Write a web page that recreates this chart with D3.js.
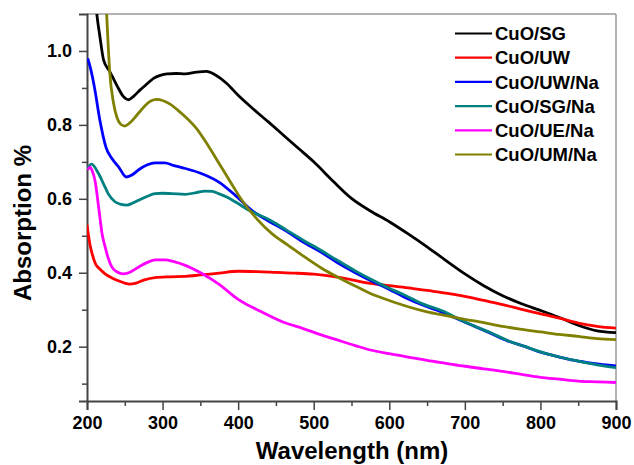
<!doctype html>
<html>
<head>
<meta charset="utf-8">
<title>Absorption spectra</title>
<script src="https://d3js.org/d3.v7.min.js"></script>
<style>
  body { margin: 0; background: #fff; }
  svg text { font-family: "Liberation Sans", Arial, sans-serif; font-weight: bold; fill: #000; }
</style>
</head>
<body>
<svg id="chart" width="634" height="465"></svg>
<script>
// series names and colours (legend order)
var names  = ["CuO/SG", "CuO/UW", "CuO/UW/Na", "CuO/SG/Na", "CuO/UE/Na", "CuO/UM/Na"];
var colors = ["#000000", "#ff0000", "#0000ff", "#008080", "#ff00ff", "#808000"];

// wavelength (nm) / absorption values
var sgWl  = [205,210,213,217,222,230,240,248,255,262,270,280,288,297,306,318,330,345,358,370,385,400,420,440,460,480,500,525,550,575,600,625,650,675,700,725,750,775,800,825,850,875,900];
var sgAbs = [1.30,1.17,1.10,1.04,0.975,0.945,0.905,0.877,0.868,0.878,0.894,0.912,0.926,0.934,0.938,0.939,0.938,0.943,0.945,0.935,0.912,0.88,0.843,0.808,0.772,0.736,0.70,0.649,0.601,0.567,0.538,0.505,0.47,0.433,0.397,0.365,0.338,0.316,0.298,0.279,0.258,0.243,0.238];

var uwWl  = [200,202,204,207,211,217,224,233,242,250,256,265,275,290,310,330,350,375,400,425,450,475,500,525,550,575,600,625,650,675,700,725,750,775,800,825,850,875,900];
var uwAbs = [0.53,0.50,0.475,0.45,0.425,0.41,0.397,0.386,0.378,0.372,0.369,0.372,0.38,0.387,0.389,0.39,0.394,0.399,0.404,0.403,0.401,0.399,0.396,0.39,0.381,0.371,0.365,0.359,0.352,0.345,0.336,0.325,0.314,0.301,0.289,0.277,0.264,0.255,0.25];

var uwNaWl  = [201,205,210,217,225,233,242,252,260,268,280,290,303,315,330,352,374,396,418,440,462,486,510,530,555,575,600,620,645,665,685,705,730,755,780,800,825,845,870,900];
var uwNaAbs = [0.98,0.95,0.9,0.813,0.74,0.709,0.686,0.659,0.665,0.678,0.692,0.697,0.697,0.69,0.682,0.668,0.646,0.61,0.569,0.54,0.515,0.483,0.455,0.429,0.40,0.379,0.355,0.334,0.312,0.297,0.28,0.262,0.24,0.217,0.2,0.185,0.172,0.163,0.155,0.148];

var sgNaWl  = [201,206,215,222,228,237,245,253,260,268,280,290,300,312,330,345,356,366,374,385,396,418,440,462,486,510,530,555,575,600,620,645,670,690,710,735,755,780,800,825,850,875,900];
var sgNaAbs = [0.682,0.694,0.669,0.64,0.614,0.592,0.585,0.583,0.588,0.596,0.607,0.614,0.615,0.614,0.612,0.617,0.621,0.62,0.614,0.605,0.592,0.565,0.545,0.518,0.488,0.46,0.435,0.405,0.383,0.358,0.34,0.315,0.297,0.277,0.258,0.237,0.218,0.2,0.186,0.172,0.161,0.151,0.143];

var ueNaWl  = [201,204,207,211,214,217,220,224,228,233,240,248,255,268,280,290,303,315,330,352,374,400,430,460,486,510,530,555,575,600,625,650,675,700,725,750,775,800,825,850,875,900];
var ueNaAbs = [0.678,0.686,0.675,0.645,0.60,0.551,0.505,0.47,0.44,0.415,0.402,0.397,0.40,0.415,0.428,0.435,0.435,0.43,0.42,0.398,0.37,0.328,0.295,0.266,0.249,0.232,0.219,0.203,0.191,0.181,0.172,0.163,0.155,0.147,0.14,0.133,0.125,0.117,0.112,0.107,0.105,0.103];

var umNaWl  = [218,222,226,230,235,240,245,250,258,265,275,285,292,300,310,320,330,345,360,375,390,405,425,445,465,490,510,530,555,575,600,625,650,675,700,725,750,775,800,825,850,875,900];
var umNaAbs = [1.45,1.27,1.10,0.945,0.86,0.818,0.801,0.797,0.808,0.824,0.848,0.865,0.869,0.866,0.856,0.84,0.822,0.79,0.745,0.695,0.645,0.596,0.545,0.505,0.476,0.44,0.413,0.39,0.364,0.344,0.325,0.308,0.294,0.284,0.274,0.265,0.255,0.247,0.24,0.233,0.228,0.222,0.219];

var xTicks = [200,300,400,500,600,700,800,900];
var yTicks = [0.2,0.4,0.6,0.8,1.0];

var allWl  = [sgWl, uwWl, uwNaWl, sgNaWl, ueNaWl, umNaWl];
var allAbs = [sgAbs, uwAbs, uwNaAbs, sgNaAbs, ueNaAbs, umNaAbs];

var series = names.map(function(n, i) {
  return { name: n, color: colors[i],
           values: allWl[i].map(function(w, j) { return { wl: w, a: allAbs[i][j] }; }) };
});

var svg = d3.select("#chart");
var margin = {top: 14, right: 18, bottom: 64, left: 87},
    width = 634 - margin.left - margin.right,
    height = 465 - margin.top - margin.bottom;

var x = d3.scaleLinear().domain([200, 900]).range([0, width]);
var y = d3.scaleLinear().domain([0.053, 1.1]).range([height, 0]);

var g = svg.append("g").attr("transform", "translate(" + margin.left + "," + margin.top + ")");

g.append("defs").append("clipPath").attr("id", "clip")
  .append("rect").attr("width", width).attr("height", height);

// frame top/right
g.append("line").attr("x1", 0).attr("x2", width).attr("y1", 0).attr("y2", 0)
  .attr("stroke", "#9a9a9a").attr("stroke-width", 1.5);
g.append("line").attr("x1", width).attr("x2", width).attr("y1", 0).attr("y2", height)
  .attr("stroke", "#9a9a9a").attr("stroke-width", 1.5);

// minor ticks
var xMinor = d3.axisBottom(x).tickValues(d3.range(250, 900, 100)).tickSize(5).tickFormat("");
var yMinor = d3.axisLeft(y).tickValues([0.1,0.3,0.5,0.7,0.9]).tickSize(5).tickFormat("");
g.append("g").attr("transform", "translate(0," + height + ")").call(xMinor)
  .call(function(s) { s.select(".domain").remove(); s.selectAll("line").attr("stroke", "#444").attr("stroke-width", 1.5); });
g.append("g").call(yMinor)
  .call(function(s) { s.select(".domain").remove(); s.selectAll("line").attr("stroke", "#444").attr("stroke-width", 1.5); });

var xAxis = d3.axisBottom(x).tickValues(xTicks).tickSize(9).tickPadding(6).tickFormat(d3.format("d"));
var yAxis = d3.axisLeft(y).tickValues(yTicks).tickSize(8).tickPadding(7).tickFormat(d3.format(".1f"));

var gx = g.append("g").attr("transform", "translate(0," + height + ")").call(xAxis);
var gy = g.append("g").call(yAxis);
[gx, gy].forEach(function(a) {
  a.select(".domain").attr("stroke", "#444").attr("stroke-width", 2);
  a.selectAll(".tick line").attr("stroke", "#444").attr("stroke-width", 1.5);
  a.selectAll(".tick text").attr("font-size", 18).attr("font-family", "Liberation Sans, Arial, sans-serif")
    .attr("font-weight", "bold").attr("fill", "#000");
});

// data lines
var line = d3.line()
  .x(function(d) { return x(d.wl); })
  .y(function(d) { return y(d.a); })
  .curve(d3.curveMonotoneX);

g.append("g").attr("clip-path", "url(#clip)")
  .selectAll("path").data(series).enter().append("path")
  .attr("d", function(d) { return line(d.values); })
  .attr("fill", "none")
  .attr("stroke", function(d) { return d.color; })
  .attr("stroke-width", 2.8)
  .attr("stroke-linejoin", "round");

// legend
var leg = svg.append("g").attr("transform", "translate(455,33.5)");
var items = leg.selectAll("g").data(series).enter().append("g")
  .attr("transform", function(d, i) { return "translate(0," + (i * 24.2) + ")"; });
items.append("line").attr("x1", 0).attr("x2", 37)
  .attr("stroke", function(d) { return d.color; }).attr("stroke-width", 2.2);
items.append("text").attr("x", 40).attr("dy", "0.36em").attr("font-size", 18.5)
  .text(function(d) { return d.name; });

// axis titles
svg.append("text").attr("x", 352).attr("y", 459).attr("text-anchor", "middle")
  .attr("font-size", 24).text("Wavelength (nm)");
svg.append("text").attr("transform", "translate(31,223) rotate(-90)").attr("text-anchor", "middle")
  .attr("font-size", 24).text("Absorption %");
</script>
</body>
</html>
